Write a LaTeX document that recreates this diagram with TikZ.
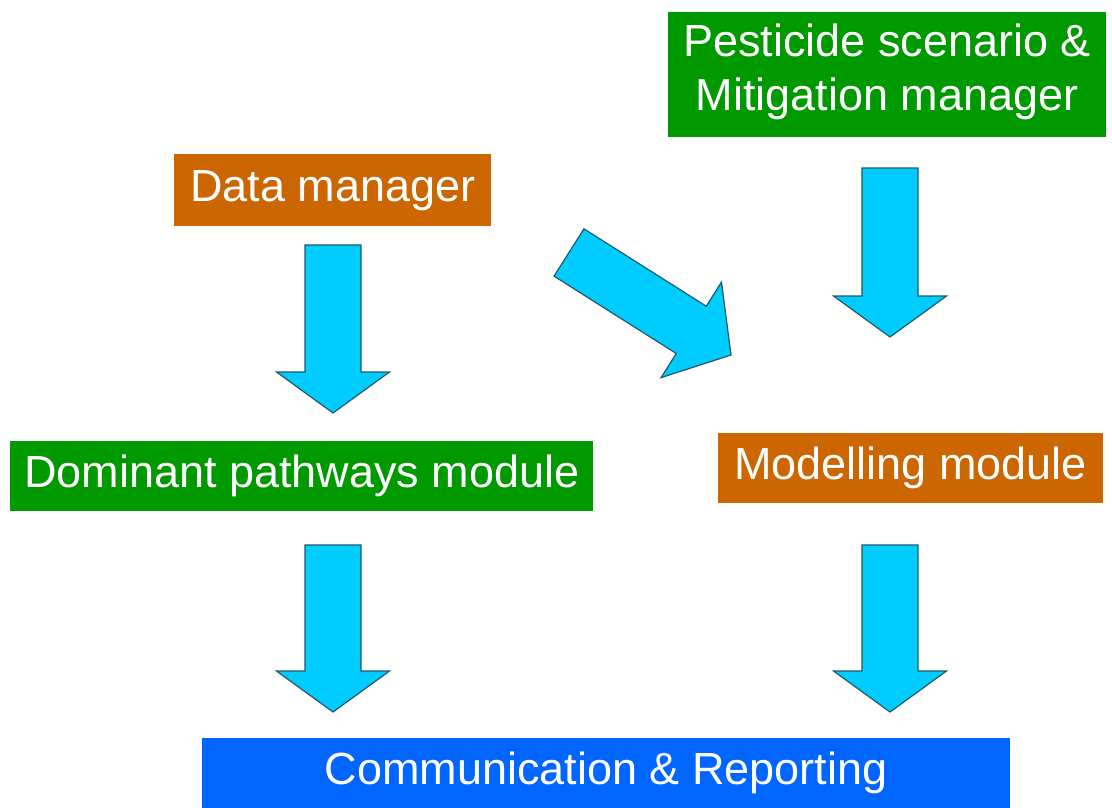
\documentclass[tikz,border=0pt]{standalone}
\usepackage{fontspec}
\setmainfont{Liberation Sans}
\usetikzlibrary{calc}

\definecolor{boxgreen}{RGB}{0,153,0}
\definecolor{boxorange}{RGB}{204,102,0}
\definecolor{boxblue}{RGB}{0,102,255}
\definecolor{arrowfill}{RGB}{0,204,255}
\definecolor{arrowedge}{RGB}{30,90,105}

\tikzset{
  module/.style={rectangle, anchor=north west, inner sep=0pt, text=white,
    align=center, font=\fontsize{45}{54}\selectfont},
  blockarrow/.style={fill=arrowfill, draw=arrowedge, line width=1.2pt, line join=miter}
}

% block arrow from #1 to #2 with head length #3
\newcommand{\blockarrow}[3]{%
  \path ($(#2)!#3!(#1)$) coordinate (bah);
  \draw[blockarrow]
    ($(#1)!28pt!90:(#2)$) -- ($(bah)!28pt!-90:(#1)$) --
    ($(bah)!56.5pt!-90:(#1)$) -- (#2) -- ($(bah)!56.5pt!90:(#1)$) --
    ($(bah)!28pt!90:(#1)$) -- ($(#1)!28pt!-90:(#2)$) -- cycle;
}

\begin{document}
\begin{tikzpicture}[x=1pt, y=-1pt]
  \useasboundingbox (0,0) rectangle (1112,808);

  % modules
  \node[module, fill=boxgreen, minimum width=438pt, minimum height=125pt,
        text depth=15.5pt] (pm) at (668,12)
    {Pesticide scenario \&\\Mitigation manager};
  \node[module, fill=boxorange, minimum width=317pt, minimum height=72pt] (dm) at (174,154)
    {Data manager};
  \node[module, fill=boxgreen, minimum width=583pt, minimum height=70pt] (dp) at (10,441)
    {Dominant pathways module};
  \node[module, fill=boxorange, minimum width=385pt, minimum height=70pt] (mm) at (718,433)
    {Modelling module};
  \node[module, fill=boxblue, minimum width=808pt, minimum height=70pt] (cr) at (202,738)
    {Communication \& Reporting};

  % arrow end points
  \coordinate (a1s) at (333,245);  \coordinate (a1e) at (333,413);
  \coordinate (a2s) at (569,252.5); \coordinate (a2e) at (731,355);
  \coordinate (a3s) at (890,168);  \coordinate (a3e) at (890,337);
  \coordinate (a4s) at (333,545);  \coordinate (a4e) at (333,712);
  \coordinate (a5s) at (890,545);  \coordinate (a5e) at (890,712);

  \blockarrow{a1s}{a1e}{41pt}
  \blockarrow{a2s}{a2e}{47pt}
  \blockarrow{a3s}{a3e}{41pt}
  \blockarrow{a4s}{a4e}{41pt}
  \blockarrow{a5s}{a5e}{41pt}
\end{tikzpicture}
\end{document}
